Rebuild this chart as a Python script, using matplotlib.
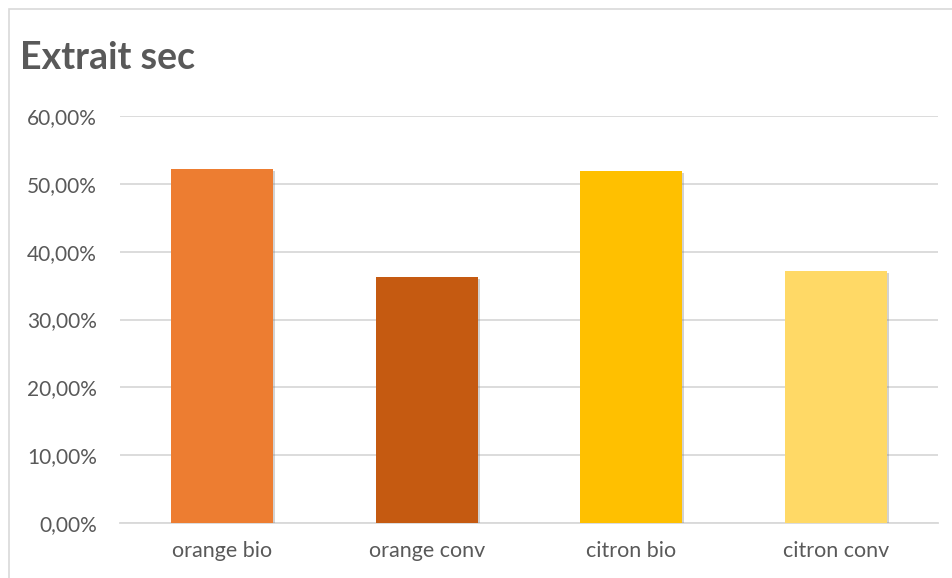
import matplotlib
matplotlib.use('Agg')
import matplotlib.pyplot as plt
import matplotlib.patches as mpatches
import matplotlib.patheffects as pe
from matplotlib.ticker import FuncFormatter

plt.rcParams['font.family'] = ['Lato', 'DejaVu Sans']

categories = ['orange bio', 'orange conv', 'citron bio', 'citron conv']
values = [0.522, 0.363, 0.519, 0.372]
bar_colors = ['#ED7D31', '#C55A11', '#FFC000', '#FFD966']
y_ticks = [0.0, 0.1, 0.2, 0.3, 0.4, 0.5, 0.6]

fig = plt.figure(figsize=(9.53, 5.78), dpi=100)
ax = fig.add_axes([120 / 953, 1 - 523 / 578, (938 - 120) / 953, (523 - 116) / 578])

# cadre du graphique
fig.patches.append(mpatches.Rectangle((9 / 953, -0.1), 1.2, 1 - 9 / 578 + 0.1,
                                      transform=fig.transFigure, fill=False,
                                      edgecolor='#d9d9d9', linewidth=1.2))

x = range(len(categories))
bars = ax.bar(x, values, width=0.5, color=bar_colors, zorder=3)
for b in bars:
    b.set_path_effects([pe.SimplePatchShadow(offset=(1.5, -1.5), shadow_rgbFace='#7f7f7f', alpha=0.35),
                        pe.Normal()])

ax.set_xlim(-0.5, len(categories) - 0.5)
ax.set_ylim(0, 0.6)
ax.set_yticks(y_ticks)
ax.yaxis.set_major_formatter(FuncFormatter(lambda v, p: f"{v * 100:.2f}%".replace('.', ',')))
ax.set_xticks(list(x))
ax.set_xticklabels(categories)
ax.grid(axis='y', color='#d9d9d9', linewidth=1.3, zorder=0)
for s in ['top', 'right', 'left']:
    ax.spines[s].set_visible(False)
ax.spines['bottom'].set_color('#d9d9d9')
ax.spines['bottom'].set_linewidth(1.3)
ax.tick_params(axis='both', length=0, labelcolor='#595959')
ax.tick_params(axis='y', pad=16.5, labelsize=15)
ax.tick_params(axis='x', pad=13, labelsize=15.5)

fig.text(20 / 953, 1 - 58 / 578, 'Extrait sec', fontsize=27, fontweight='bold',
         color='#595959', va='center', ha='left')

fig.savefig('out.png', dpi=100)
